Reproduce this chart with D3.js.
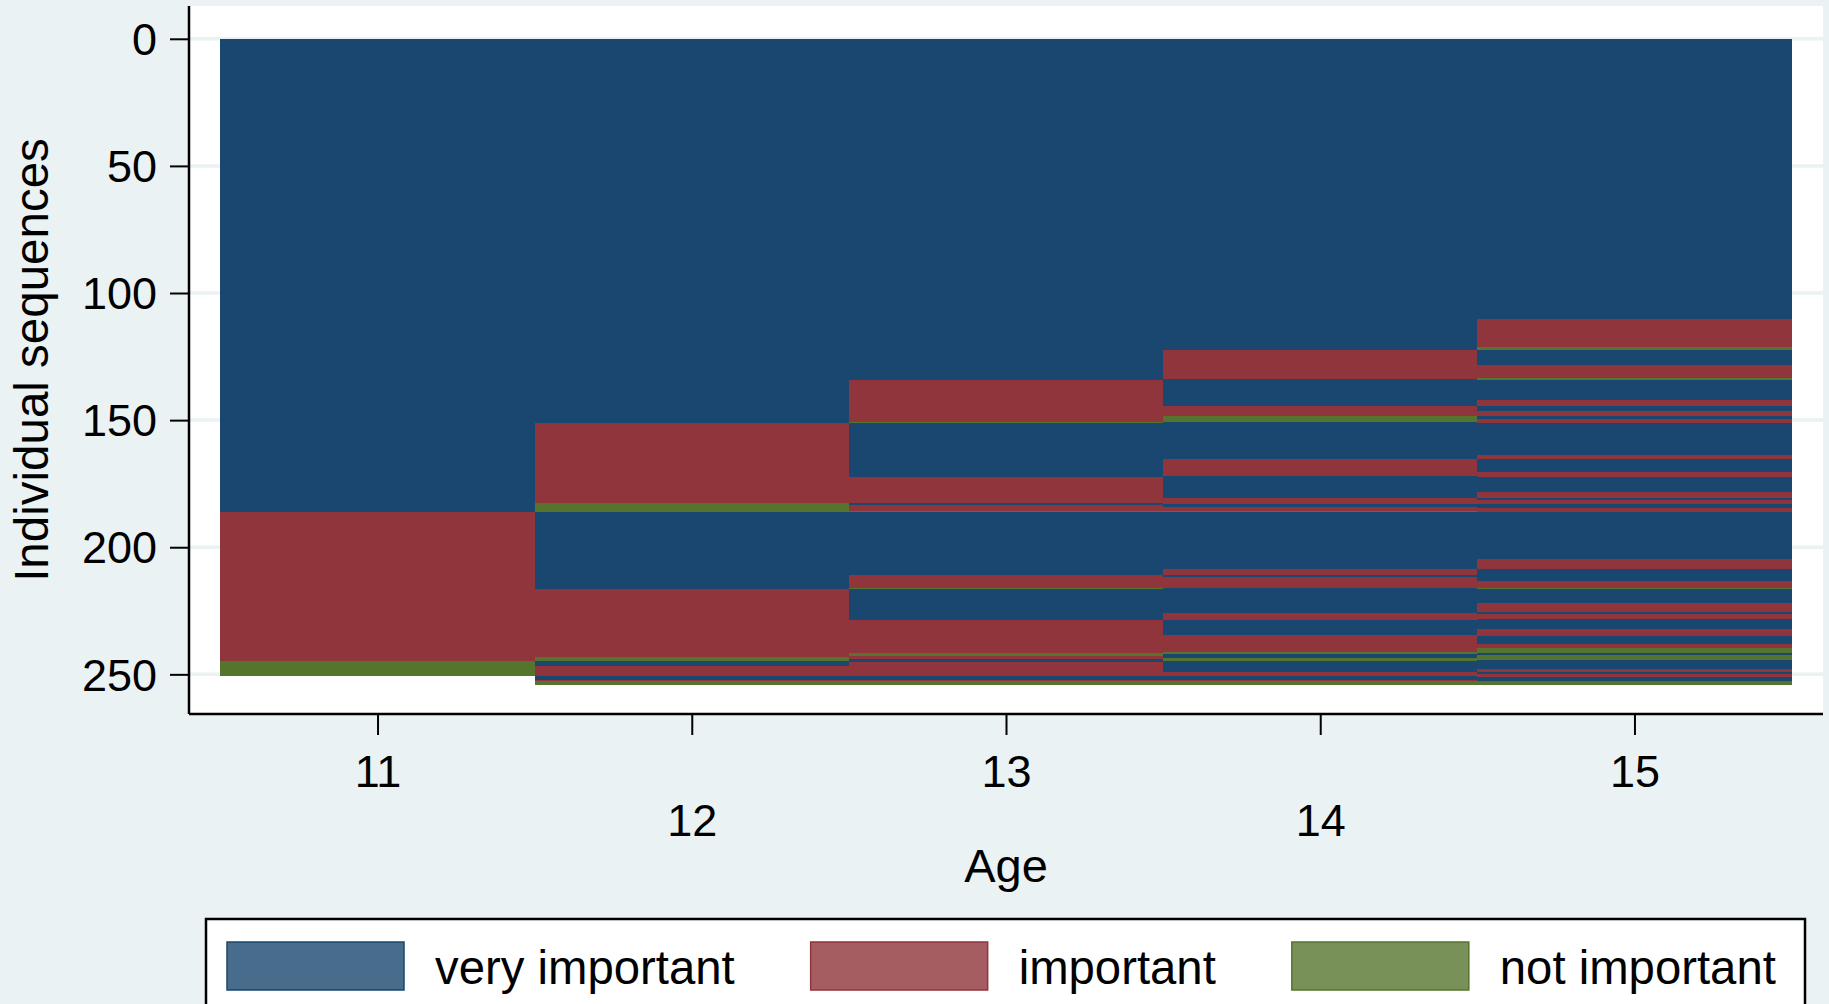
<!DOCTYPE html>
<html>
<head>
<meta charset="utf-8">
<script src="https://cdn.jsdelivr.net/npm/d3@7"></script>
<style>
  html, body { margin: 0; padding: 0; background: #eaf2f3; }
  svg { display: block; }
  text { font-family: "Liberation Sans", Arial, sans-serif; fill: #000; }
</style>
</head>
<body>
<svg id="chart" width="1829" height="1004"></svg>
<script>
// ---------------- data ----------------
const ages = [11, 12, 13, 14, 15];
const stateNames = ["very important", "important", "not important"];
const stateColors = ["#1a476f", "#90353b", "#55752f"];
const yTicks = [0, 50, 100, 150, 200, 250];
const xLabel = "Age";
const yLabel = "Individual sequences";

// runs per age: [state (1 = very important, 2 = important, 3 = not important), from seq, to seq]
const seqAge11 = [
  [1, 0, 186.3], [2, 186.3, 244.9], [3, 244.9, 250.8]
];
const seqAge12 = [
  [1, 0, 151.2], [2, 151.2, 182.7], [3, 182.7, 186.3], [1, 186.3, 216.5],
  [2, 216.5, 243.2], [3, 243.2, 244.9], [1, 244.9, 246.7], [2, 246.7, 250.8],
  [1, 250.8, 252.1], [2, 252.1, 252.8], [3, 252.8, 254]
];
const seqAge13 = [
  [1, 0, 134.1], [2, 134.1, 150.7], [3, 150.7, 151.3], [1, 151.3, 172.2],
  [2, 172.2, 182.6], [1, 182.6, 183.4], [2, 183.4, 185.6], [3, 185.6, 186.3],
  [1, 186.3, 211.1], [2, 211.1, 215.9], [3, 215.9, 216.5], [1, 216.5, 228.7],
  [2, 228.7, 241.6], [3, 241.6, 242.9], [2, 242.9, 243.8], [1, 243.8, 245.2],
  [2, 245.2, 250.8], [1, 250.8, 252.1], [2, 252.1, 252.8], [3, 252.8, 254]
];
const seqAge14 = [
  [1, 0, 122.3], [2, 122.3, 133.9], [1, 133.9, 144.5], [2, 144.5, 148.3],
  [3, 148.3, 150.7], [1, 150.7, 165.4], [2, 165.4, 172.0], [1, 172.0, 180.8],
  [2, 180.8, 183.0], [1, 183.0, 184.0], [2, 184.0, 185.6], [3, 185.6, 186.3],
  [1, 186.3, 208.4], [2, 208.4, 211.0], [1, 211.0, 211.6], [2, 211.6, 215.9],
  [1, 215.9, 225.9], [2, 225.9, 228.7], [1, 228.7, 234.7], [2, 234.7, 241.2],
  [3, 241.2, 241.9], [1, 241.9, 243.6], [3, 243.6, 244.6], [1, 244.6, 248.9],
  [2, 248.9, 250.8], [1, 250.8, 252.1], [2, 252.1, 252.8], [3, 252.8, 254]
];
const seqAge15 = [
  [1, 0, 110.1], [2, 110.1, 121.3], [3, 121.3, 122.3], [1, 122.3, 128.5],
  [2, 128.5, 133.5], [3, 133.5, 134.1], [1, 134.1, 142.0], [2, 142.0, 144.4],
  [1, 144.4, 146.4], [2, 146.4, 148.2], [1, 148.2, 149.5], [2, 149.5, 151.2],
  [1, 151.2, 163.7], [2, 163.7, 165.4], [1, 165.4, 170.4], [2, 170.4, 172.2],
  [1, 172.2, 178.4], [2, 178.4, 180.8], [1, 180.8, 181.4], [2, 181.4, 183.0],
  [1, 183.0, 184.5], [2, 184.5, 186.3], [1, 186.3, 204.8], [2, 204.8, 208.4],
  [1, 208.4, 213.4], [2, 213.4, 215.9], [3, 215.9, 216.5], [1, 216.5, 222.1],
  [2, 222.1, 225.5], [1, 225.5, 226.4], [2, 226.4, 228.4], [1, 228.4, 232.0],
  [2, 232.0, 234.9], [1, 234.9, 237.9], [2, 237.9, 239.6], [3, 239.6, 241.6],
  [1, 241.6, 242.5], [3, 242.5, 244.5], [1, 244.5, 247.8], [2, 247.8, 249.1],
  [1, 249.1, 249.7], [2, 249.7, 250.9], [1, 250.9, 252.8], [3, 252.8, 254]
];
const seqByAge = [seqAge11, seqAge12, seqAge13, seqAge14, seqAge15];

// ---------------- layout ----------------
const svg = d3.select("#chart");
const W = 1829, H = 1004;
const plot = { left: 189, right: 1823, top: 6, bottom: 714 };

svg.append("rect").attr("width", W).attr("height", H).attr("fill", "#eaf2f3");
svg.append("rect")
  .attr("x", plot.left).attr("y", plot.top)
  .attr("width", plot.right - plot.left).attr("height", plot.bottom - plot.top)
  .attr("fill", "#ffffff");

const x = d3.scaleLinear().domain([10.4, 15.6]).range([plot.left, plot.right]);
const y = d3.scaleLinear().domain([-12.9, 265.6]).range([plot.top, plot.bottom]);

// gridlines
svg.append("g").selectAll("line").data(yTicks).join("line")
  .attr("x1", plot.left).attr("x2", plot.right)
  .attr("y1", d => y(d)).attr("y2", d => y(d))
  .attr("stroke", "#eaf2f3").attr("stroke-width", 3.5);

// sequence cells
const cells = [];
ages.forEach((a, i) => seqByAge[i].forEach(r => cells.push({ age: a, state: r[0], from: r[1], to: r[2] })));
svg.append("g").attr("shape-rendering", "crispEdges")
  .selectAll("rect").data(cells).join("rect")
  .attr("x", d => x(d.age - 0.5))
  .attr("width", d => x(d.age + 0.5) - x(d.age - 0.5))
  .attr("y", d => y(d.from))
  .attr("height", d => y(d.to) - y(d.from))
  .attr("fill", d => stateColors[d.state - 1]);

// y axis
const yAxis = svg.append("g").attr("transform", `translate(${plot.left},0)`)
  .call(d3.axisLeft(y).tickValues(yTicks).tickSize(19).tickPadding(13).tickFormat(d3.format("d")));
yAxis.select(".domain").attr("d", `M0,${plot.top}V${plot.bottom}`).attr("stroke", "#000").attr("stroke-width", 2.5);
yAxis.selectAll(".tick line").attr("stroke", "#000").attr("stroke-width", 2);
yAxis.selectAll(".tick text").attr("font-size", 45).attr("font-family", "Liberation Sans, Arial, sans-serif").attr("dy", "0.35em");

// x axis
const xAxis = svg.append("g").attr("transform", `translate(0,${plot.bottom})`)
  .call(d3.axisBottom(x).tickValues(ages).tickSize(21).tickFormat(d3.format("d")));
xAxis.select(".domain").attr("d", `M${plot.left},0H${plot.right}`).attr("stroke", "#000").attr("stroke-width", 2.5);
xAxis.selectAll(".tick line").attr("stroke", "#000").attr("stroke-width", 2);
xAxis.selectAll(".tick text")
  .attr("font-size", 45).attr("font-family", "Liberation Sans, Arial, sans-serif")
  .attr("dy", null)
  .attr("y", (d, i) => i % 2 === 0 ? 73 : 122);

// axis titles
svg.append("text")
  .attr("x", (plot.left + plot.right) / 2).attr("y", 882)
  .attr("text-anchor", "middle").attr("font-size", 47).text(xLabel);
svg.append("text")
  .attr("transform", `translate(48,${(plot.top + plot.bottom) / 2}) rotate(-90)`)
  .attr("text-anchor", "middle").attr("font-size", 47.5).text(yLabel);

// legend
const legend = svg.append("g");
legend.append("rect")
  .attr("x", 206).attr("y", 919).attr("width", 1599).attr("height", 120)
  .attr("fill", "#ffffff").attr("stroke", "#000").attr("stroke-width", 2.5);
const swW = 177, swH = 48, swGap = 31, itemGap = 76;
let lx = 227;
stateNames.forEach((name, i) => {
  const g = legend.append("g");
  g.append("rect")
    .attr("x", lx).attr("y", 942).attr("width", swW).attr("height", swH)
    .attr("fill", stateColors[i]).attr("fill-opacity", 0.8)
    .attr("stroke", stateColors[i]).attr("stroke-width", 1.5);
  const t = g.append("text")
    .attr("x", lx + swW + swGap).attr("y", 984)
    .attr("font-size", 47.3).text(name);
  lx = lx + swW + swGap + t.node().getComputedTextLength() + itemGap;
});
</script>
</body>
</html>
